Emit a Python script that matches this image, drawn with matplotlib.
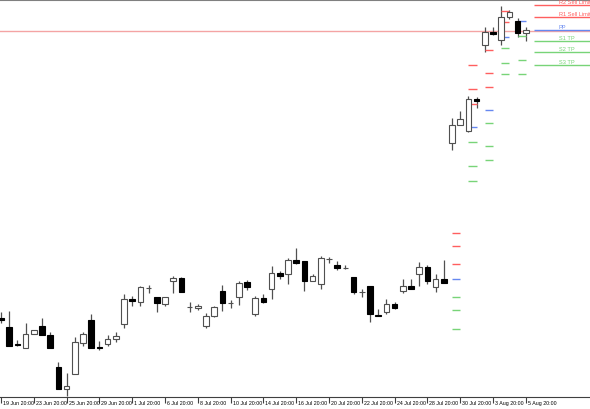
import numpy as np
import matplotlib.pyplot as plt
import matplotlib.transforms as mtransforms

# H12 candles, prices (arbitrary units)
opens = [81, 72, 55.5, 51, 65, 73, 64, 32, 10, 25, 56, 79, 52, 55, 60, 75, 100, 97, 111, 102,
         95, 118, 121, 92, 91, 73, 83, 108, 96, 102, 117, 85, 101, 110, 126, 125, 139, 138, 118, 115,
         140, 134, 131, 122, 107, 113, 84.5, 87, 95, 108, 113, 125, 132, 112, 120, 256, 274, 268, 300, 354,
         367, 359, 382, 378, 366]
highs = [87, 88, 59, 76, 69, 81, 67, 37, 26, 62, 67, 85, 58, 64, 67, 105, 103, 113, 114, 102,
         102, 123, 122, 97, 95, 86, 93, 114, 99, 118, 119, 103, 105, 133, 128, 141, 151, 138, 125, 143,
         142, 138, 134, 122, 110, 113, 90, 100, 97, 120, 120, 137, 134, 125, 139, 281, 288, 303, 302, 372,
         372, 393, 389, 381, 372]
lows = [76, 53, 53, 51, 65, 64, 51, 10, 3, 25, 53, 51, 49, 53, 57, 71, 93, 93, 106, 87,
        93, 106, 107, 87, 89, 71, 82, 88, 91, 94, 109, 83, 96, 100, 120, 115, 135, 108, 118, 110,
        136, 129, 130, 105, 102, 77, 83, 85, 90, 106, 110, 113, 115, 107, 116, 249, 274, 267, 291, 347,
        364, 354, 380, 362, 358]
closes = [79, 53, 54.5, 65, 69, 64, 51, 10, 13, 57, 65, 51, 51, 60, 63, 100, 98, 112, 111, 96,
          102, 121, 107, 92, 93, 83, 92, 96, 96, 116, 112, 101, 97, 126, 123, 139, 136, 118, 123, 141,
          140, 131, 131, 107, 107, 85, 83, 95, 91, 113, 110, 132, 118, 120, 116, 274, 280, 300, 298, 367,
          365, 382, 387, 366, 369]

date_labels = ['19 Jun 20:00', '23 Jun 20:00', '25 Jun 20:00', '29 Jun 20:00', '1 Jul 20:00',
               '6 Jul 20:00', '8 Jul 20:00', '10 Jul 20:00', '14 Jul 20:00', '16 Jul 20:00',
               '20 Jul 20:00', '22 Jul 20:00', '24 Jul 20:00', '28 Jul 20:00', '30 Jul 20:00',
               '3 Aug 20:00', '5 Aug 20:00']

# daily pivot levels (30 Jul .. 5 Aug), each day spans two candles
pivot_start = [55, 57, 59, 61, 63]
r3 = [166, 334, 349, 403, 440]
r2 = [153, 310, 326, 388, 416]
r1 = [135, 295, 312, 377, 401]
pp = [120, 272, 289, 362, 378]
s1 = [102, 257, 276, 351, 363]
s2 = [89, 233, 253, 336, 339]
s3 = [70, 218, 239, 325, 325]

# levels for the coming day, drawn to the right edge
next_names = ['R2 Sell Limit', 'R1 Sell Limit', 'PP', 'S1 TP', 'S2 TP', 'S3 TP']
next_levels = [394, 382, 369, 358, 347, 334]
current_price = 368

RED = '#ff5f5f'
BLUE = '#6688f0'
GREEN = '#78d478'
FONT = 'Liberation Sans'

fig = plt.figure(figsize=(5.9, 4.1), dpi=100)
ax = fig.add_axes([0, 12 / 410, 1, 397 / 410])
ax.set_xlim(-1 / 8.2, 589 / 8.2)
ax.set_ylim(2, 399)

ax.axhline(current_price, color='#f4a4a4', lw=1.0, zorder=1)

# candles
x = np.arange(len(opens))
o = np.array(opens, dtype=float)
c = np.array(closes, dtype=float)
ax.vlines(x, lows, highs, color='#505050', lw=0.9, zorder=2)
bull = c >= o
body_w = 0.66
ax.bar(x[bull], c[bull] - o[bull], bottom=o[bull], width=body_w,
       facecolor='white', edgecolor='#505050', lw=0.8, zorder=3)
ax.bar(x[~bull], o[~bull] - c[~bull], bottom=c[~bull], width=body_w,
       facecolor='black', edgecolor='black', lw=0.8, zorder=3)

# pivot dashes per day
for levels, col in [(r3, RED), (r2, RED), (r1, RED), (pp, BLUE), (s1, GREEN), (s2, GREEN), (s3, GREEN)]:
    for st, lv in zip(pivot_start, levels):
        ax.hlines(lv, st, st + 1, color=col, lw=1.0, zorder=2)

# next-day levels with labels
x_end = ax.get_xlim()[1]
label_tr = mtransforms.blended_transform_factory(ax.transAxes, ax.transData)
for name, lv in zip(next_names, next_levels):
    if name.startswith('R'):
        col = RED
    elif name == 'PP':
        col = BLUE
    else:
        col = GREEN
    ax.hlines(lv, 65, x_end, color=col, lw=1.0, zorder=2)
    ax.text(0.947, lv + 1.2, name, transform=label_tr, color=col, fontsize=4.1,
            family=FONT, ha='left', va='bottom')

# time axis
tick_pos = np.arange(0, len(opens), 4)
ax.set_xticks(tick_pos)
ax.set_xticklabels([])
ax.tick_params(axis='x', direction='out', length=4, width=0.8, color='#404040')
ax.set_yticks([])
date_tr = mtransforms.blended_transform_factory(ax.transData, ax.transAxes)
for p, lab in zip(tick_pos, date_labels):
    ax.text(p + 0.25, -0.015, lab, transform=date_tr, fontsize=3.8, family=FONT,
            color='black', ha='left', va='center')

for side in ['left', 'right']:
    ax.spines[side].set_visible(False)
ax.spines['bottom'].set_color('#404040')
ax.spines['top'].set_color('#808080')
ax.spines['bottom'].set_linewidth(0.8)
ax.spines['top'].set_linewidth(0.8)

fig.savefig('out.png', dpi=100)
